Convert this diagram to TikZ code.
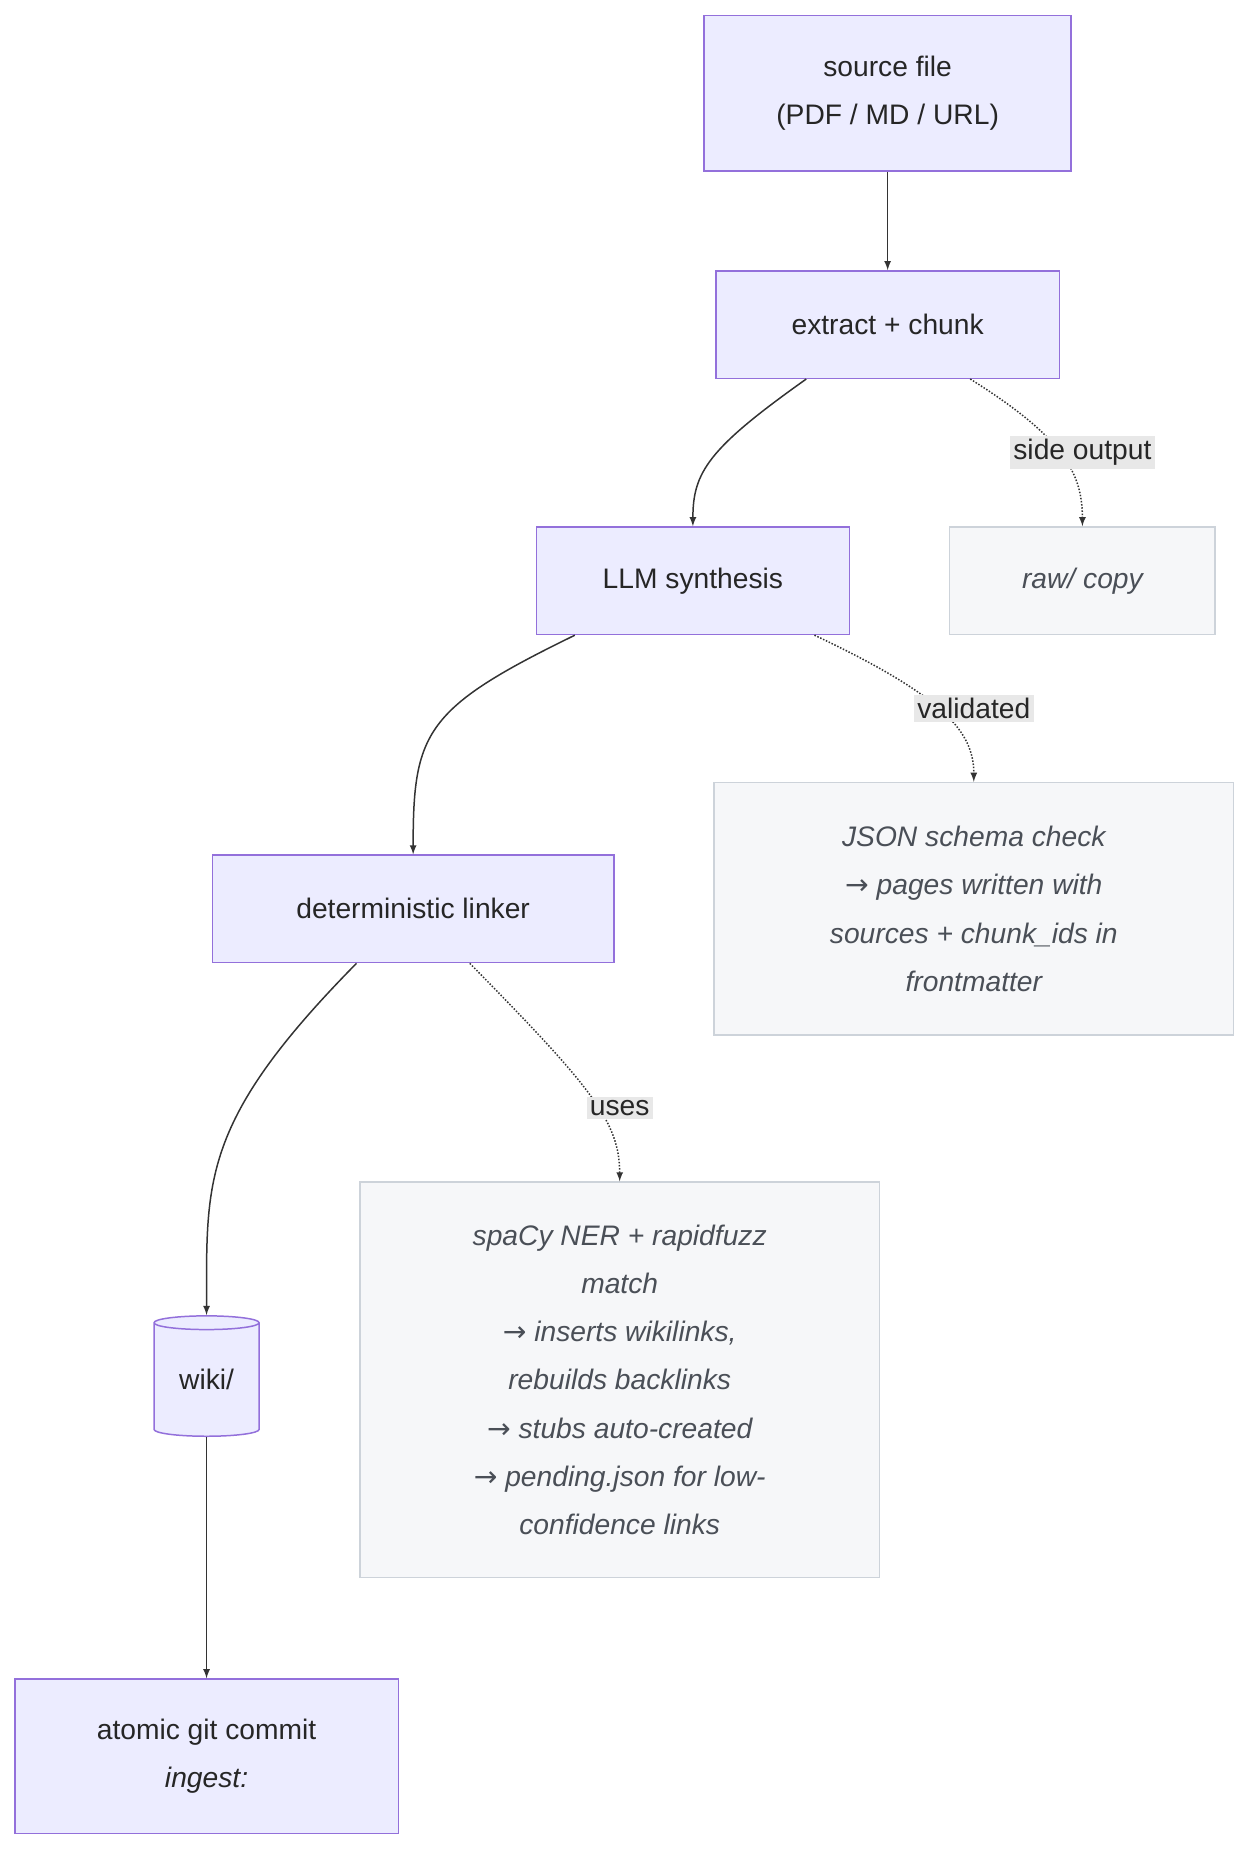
\documentclass[tikz,border=0pt]{standalone}
\usepackage{fontspec}
\setmainfont{Liberation Sans}
\newfontfamily\symfont{DejaVu Sans}
\usetikzlibrary{shapes.geometric, calc, arrows}
\definecolor{procfill}{HTML}{ECECFF}
\definecolor{procdraw}{HTML}{9370DB}
\definecolor{notefill}{HTML}{F6F7F9}
\definecolor{notedraw}{HTML}{CDD3DA}
\definecolor{notetext}{HTML}{4A4F57}
\definecolor{lblfill}{HTML}{E8E8E8}
\newcommand{\arr}{{\symfont\upshape →}}
\begin{document}
\begin{tikzpicture}[x=0.025cm, y=-0.025cm, font=\fontsize{17}{29}\selectfont]

\tikzstyle{proc}=[rectangle, draw=procdraw, fill=procfill, line width=0.9pt, align=center, text=black!85, inner sep=0pt]
\tikzstyle{note}=[rectangle, draw=notedraw, fill=notefill, line width=0.9pt, align=center, text=notetext, font=\fontsize{17}{29}\selectfont\itshape, inner sep=0pt]
\tikzstyle{lbl}=[fill=lblfill, inner sep=2pt, text=black!85]
\tikzstyle{connect}=[-latex, line width=0.9pt, black!80]
\tikzstyle{side}=[-latex, line width=0.9pt, black!80, densely dotted]

\useasboundingbox (0,0) rectangle (1060,1569);

\node[proc, minimum width=311*0.025cm, minimum height=132*0.025cm] (src) at (752,79) {source file\\(PDF / MD / URL)};
\node[proc, minimum width=291*0.025cm, minimum height=91*0.025cm] (extract) at (752,275) {extract + chunk};
\node[proc, minimum width=265*0.025cm, minimum height=91*0.025cm] (llm) at (587,492) {LLM synthesis};
\node[note, minimum width=225*0.025cm, minimum height=91*0.025cm] (raw) at (917,492) {raw/ copy};
\node[proc, minimum width=340*0.025cm, minimum height=91*0.025cm] (linker) at (350,770) {deterministic linker};
\node[note, minimum width=440*0.025cm, minimum height=214*0.025cm] (json) at (825,770) {JSON schema check\\\arr{} pages written with\\sources + chunk\_ids in\\frontmatter};
\node[cylinder, shape border rotate=90, aspect=0.25, draw=procdraw, fill=procfill, line width=0.9pt, minimum width=89*0.025cm, minimum height=102*0.025cm, inner sep=0pt, text=black!85] (wiki) at (175,1169) {wiki/};
\node[note, minimum width=440*0.025cm, minimum height=335*0.025cm] (spacy) at (525,1169) {spaCy NER + rapidfuzz\\match\\\arr{} inserts wikilinks,\\rebuilds backlinks\\\arr{} stubs auto-created\\\arr{} pending.json for low-\\confidence links};
\node[proc, minimum width=325*0.025cm, minimum height=131*0.025cm] (commit) at (175,1488) {atomic git commit\\\textit{ingest:}};

\path (src) [connect] edge (extract);
\draw[connect] ($(extract.south)+(-69,0)$) .. controls (600,380) and (587,400) .. (llm.north);
\draw[side] ($(extract.south)+(70,0)$) .. controls (900,370) and (917,400) .. (raw.north);
\node[lbl] (l1) at (917,383) {side output};
\draw[connect] ($(llm.south)+(-100,0)$) .. controls (360,600) and (350,620) .. (linker.north);
\draw[side] ($(llm.south)+(103,0)$) .. controls (800,590) and (825,620) .. (json.north);
\node[lbl] (l2) at (825,600) {validated};
\draw[connect] ($(linker.south)+(-48,0)$) .. controls (170,950) and (175,1000) .. (wiki.north);
\draw[side] ($(linker.south)+(48,0)$) .. controls (500,920) and (525,950) .. (spacy.north);
\node[lbl] (l3) at (525,939) {uses};
\path (wiki) [connect] edge (commit);

\end{tikzpicture}
\end{document}
